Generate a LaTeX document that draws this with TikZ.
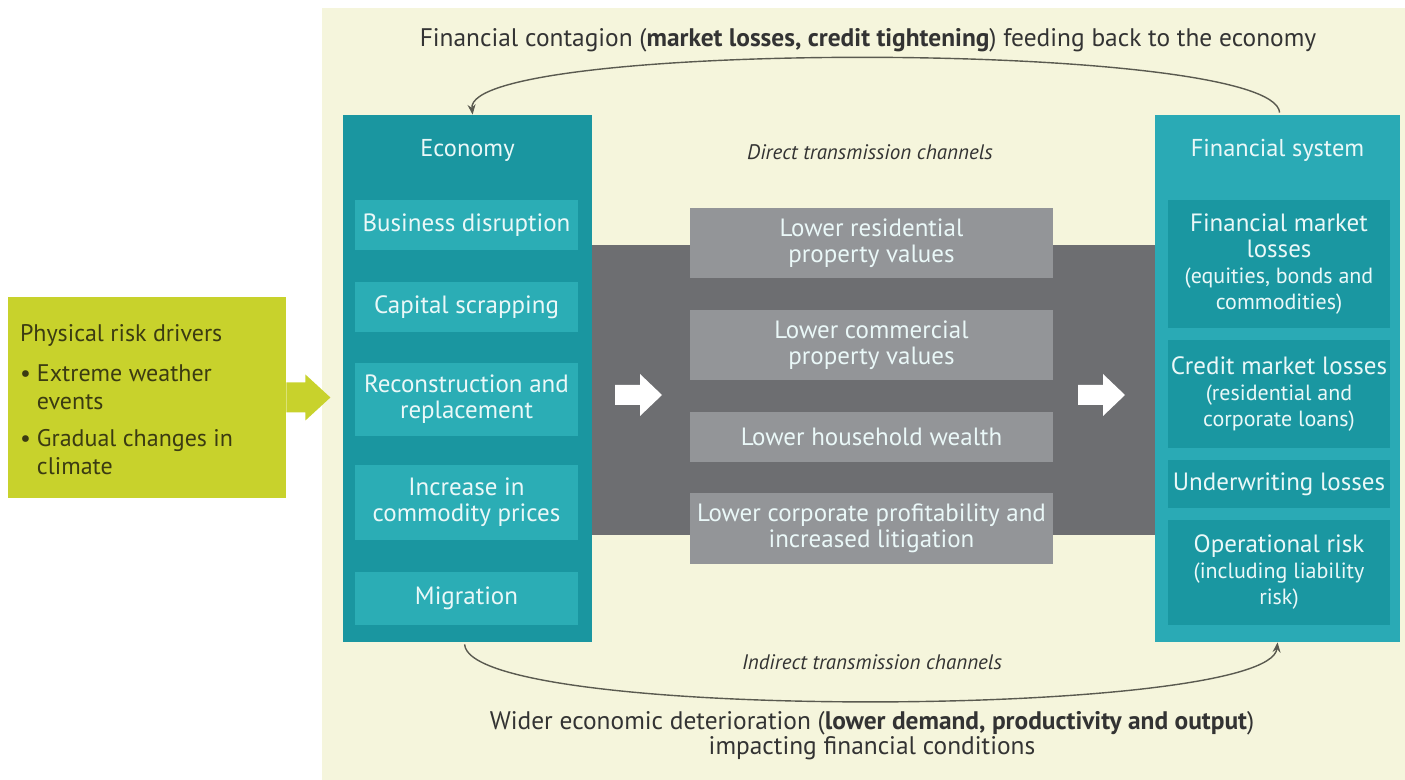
\documentclass[tikz,border=0pt]{standalone}
\usepackage{fontspec}
\setmainfont{PT Sans}
\usetikzlibrary{arrows.meta,fit,calc}

\definecolor{cream}{HTML}{F5F5DC}
\definecolor{drvgreen}{HTML}{C8D22C}
\definecolor{drvtext}{HTML}{3B3B12}
\definecolor{ecodark}{HTML}{1A96A0}
\definecolor{ecolight}{HTML}{2BADB5}
\definecolor{finlight}{HTML}{2AAAB5}
\definecolor{findark}{HTML}{1A97A1}
\definecolor{bandgray}{HTML}{6D6E71}
\definecolor{changray}{HTML}{939598}
\definecolor{celltext}{HTML}{EAF8F8}
\definecolor{darktext}{HTML}{333333}
\definecolor{curvegray}{HTML}{5A5A50}

\newcommand{\sm}{\fontsize{11}{13}\selectfont}

\tikzset{
  cell/.style={inner sep=0pt, align=center, text=celltext,
    font=\fontsize{12.5}{13}\selectfont},
  ecocell/.style={cell, fill=ecolight, minimum width=111.5pt},
  fincell/.style={cell, fill=findark, minimum width=111pt},
  chancell/.style={cell, fill=changray, minimum width=181.5pt},
  paneltitle/.style={text=celltext, font=\fontsize{12.2}{13}\selectfont},
  note/.style={text=darktext, align=center, font=\fontsize{12.7}{12.5}\selectfont},
  channote/.style={text=darktext, font=\fontsize{10.5}{11}\selectfont\itshape},
  feedback/.style={draw=curvegray, line width=0.7pt, -{Stealth[length=5pt,width=4pt]}},
}

\begin{document}
\begin{tikzpicture}[x=0.5pt,y=-0.5pt]
  \useasboundingbox (0,0) rectangle (1405,780);

  % background panel
  \fill[cream] (322,8) rectangle (1405,780);

  % physical risk drivers
  \node[fill=drvgreen, inner sep=0pt, fit={(8,297) (286,498)}] (drv) {};
  \node[anchor=west, text=drvtext, align=left, inner sep=0pt,
    font=\fontsize{12}{14}\selectfont] (drvt) at ($(drv.west)+(12,2)$)
    {Physical risk drivers\\[6pt]
     \makebox[8.5pt][l]{\textbullet}Extreme weather\\
     \hspace*{8.5pt}events\\[4.5pt]
     \makebox[8.5pt][l]{\textbullet}Gradual changes in\\
     \hspace*{8.5pt}climate};
  \fill[drvgreen] ($(drv.east)+(0,-15)$) -- ++(19,0) -- ++(0,-8)
    -- ++(25,23) -- ++(-25,23) -- ++(0,-8) -- ++(-19,0) -- cycle;

  % direct channels band
  \node[fill=bandgray, inner sep=0pt, fit={(592,245) (1155,535)}] (band) {};

  % economy
  \node[fill=ecodark, inner sep=0pt, fit={(343,115) (592,642)}] (eco) {};
  \node[paneltitle] (ecot) at ($(eco.north)+(0,36)$) {Economy};
  \node[ecocell, minimum height=25pt] (bd) at (466.5,225) {Business disruption};
  \node[ecocell, minimum height=25pt] (cs) at (466.5,307) {Capital scrapping};
  \node[ecocell, minimum height=36.5pt] (rr) at (466.5,399.5) {Reconstruction and\\replacement};
  \node[ecocell, minimum height=37.5pt] (ic) at (466.5,502.5) {Increase in\\commodity prices};
  \node[ecocell, minimum height=26.5pt] (mg) at (466.5,598.5) {Migration};

  % financial system
  \node[fill=finlight, inner sep=0pt, fit={(1155,115) (1400,642)}] (fin) {};
  \node[paneltitle] (fint) at ($(fin.north)+(0,36)$) {Financial system};
  \node[fincell, minimum height=64pt] (fml) at (1279,264)
    {Financial market\\losses\\\sm(equities, bonds and\\\sm commodities)};
  \node[fincell, minimum height=54pt] (cml) at (1279,394)
    {Credit market losses\\\sm(residential and\\\sm corporate loans)};
  \node[fincell, minimum height=24pt] (uw) at (1279,484) {Underwriting losses};
  \node[fincell, minimum height=52.5pt] (opr) at (1279,572.5)
    {Operational risk\\\sm(including liability\\\sm risk)};

  % channels
  \node[channote] (direct) at (870,152) {Direct transmission channels};
  \node[chancell, minimum height=35pt] (res) at (871.5,243) {Lower residential\\property values};
  \node[chancell, minimum height=35pt] (com) at (871.5,345) {Lower commercial\\property values};
  \node[chancell, minimum height=25pt] (hh) at (871.5,437) {Lower household wealth};
  \node[chancell, minimum height=35.5pt] (corp) at (871.5,528.5)
    {Lower corporate profitability and\\increased litigation};

  % white arrows
  \fill[white] (615,385) -- (640,385) -- (640,374) -- (662,395)
    -- (640,416) -- (640,405) -- (615,405) -- cycle;
  \fill[white] (1078,385) -- (1103,385) -- (1103,374) -- (1125,395)
    -- (1103,416) -- (1103,405) -- (1078,405) -- cycle;

  % feedback loops
  \coordinate (topR) at ($(fin.north west)+(125,-2)$);
  \coordinate (topL) at ($(eco.north west)+(130,0)$);
  \coordinate (botL) at ($(eco.south west)+(122,2)$);
  \coordinate (botR) at ($(fin.south west)+(123,0)$);
  \draw[feedback] (topR) .. controls +(-5,-73) and +(-8,-75) .. (topL);
  \draw[feedback] (botL) .. controls +(5,78) and +(-8,76) .. (botR);

  \node[note] (contagion) at (868,40)
    {Financial contagion (\textbf{market losses, credit tightening}) feeding back to the economy};
  \node[channote] (indirect) at (872,662) {Indirect transmission channels};
  \node[note] (wider) at (872,736)
    {Wider economic deterioration (\textbf{lower demand, productivity and output})\\
     impacting financial conditions};
\end{tikzpicture}
\end{document}
